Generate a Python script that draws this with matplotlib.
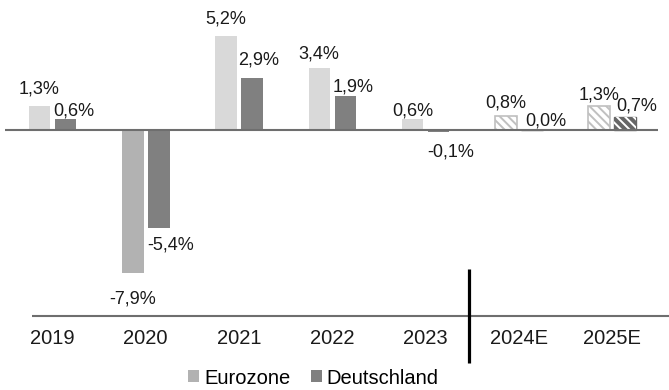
import matplotlib
matplotlib.use("Agg")
import matplotlib.pyplot as plt
from matplotlib.patches import Patch

# ---- data -------------------------------------------------------------
years = ["2019", "2020", "2021", "2022", "2023", "2024E", "2025E"]
eurozone = [1.3, -7.9, 5.2, 3.4, 0.6, 0.8, 1.3]
deutschland = [0.6, -5.4, 2.9, 1.9, -0.1, 0.0, 0.7]
is_forecast = [False, False, False, False, False, True, True]

# ---- style ------------------------------------------------------------
plt.rcParams["font.family"] = ["Liberation Sans", "DejaVu Sans"]
plt.rcParams["hatch.linewidth"] = 1.4

EURO_LIGHT = "#d9d9d9"
EURO_MID = "#b2b2b2"
DE_COLOR = "#808080"
DE_HATCH_BASE = "#666666"
EURO_HATCH = "#c0c0c0"
AXIS_GREY = "#6e6e6e"
euro_colors = [EURO_LIGHT, EURO_MID, EURO_LIGHT, EURO_LIGHT, EURO_LIGHT, EURO_LIGHT, EURO_LIGHT]
HATCH = "\\" * 4

# label placement (pixels): distance of label centre from the bar end
euro_gap = [19, 24, 19, 16, 10, 14, 13]
de_gap = [10, 15, 19, 11, 18, 11, 13]
de_dx = [-1, -1, -3, -2, -1, 4, 2]

VAL_FS = 13
CAT_FS = 14.5

# ---- figure / pixel layout -------------------------------------------
W, H = 669, 390
fig = plt.figure(figsize=(W / 100, H / 100), dpi=100)
ax = fig.add_axes([0, 0, 1, 1])
ax.axis("off")

X0, STEP = 52.5, 93.25      # pixel centre of first group, pixels per group
Y0, UNIT = 130.0, 18.1      # pixel row of zero, pixels per percent


def px_x(p):
    return (p - X0) / STEP


def px_y(p):
    return (Y0 - p) / UNIT


ax.set_xlim(px_x(0), px_x(W))
ax.set_ylim(px_y(H), px_y(0))

bw = 21.5 / STEP
off = 13.0 / STEP
xs = list(range(len(years)))

for i, x in enumerate(xs):
    xe, xd = x - off, x + off
    ve, vd = eurozone[i], deutschland[i]
    if is_forecast[i]:
        ax.bar(xe, ve, bw, color="white", edgecolor=EURO_HATCH, linewidth=1.2,
               hatch=HATCH, zorder=2)
        ax.bar(xd, vd, bw, color=DE_HATCH_BASE, edgecolor=DE_HATCH_BASE, linewidth=1.0, zorder=2)
        ax.bar(xd, vd, bw, color="none", edgecolor="white", linewidth=0,
               hatch=HATCH, zorder=3)
    else:
        ax.bar(xe, ve, bw, color=euro_colors[i], linewidth=0, zorder=2)
        ax.bar(xd, vd, bw, color=DE_COLOR, linewidth=0, zorder=2)


def fmt(v):
    return f"{v:.1f}%".replace(".", ",")


half_cap = 0.716 * VAL_FS * 100 / 72 / 2

for i, x in enumerate(xs):
    ve, vd = eurozone[i], deutschland[i]
    # Eurozone: centred over the bar
    dy = (euro_gap[i] - half_cap) if ve >= 0 else -(euro_gap[i] + half_cap)
    ax.annotate(fmt(ve), xy=(x - off, ve), xytext=(0, dy), textcoords="offset pixels",
                ha="center", va="baseline", fontsize=VAL_FS, color="#1a1a1a", zorder=5)
    # Deutschland: left-aligned with the bar
    dy = (de_gap[i] - half_cap) if vd >= 0 else -(de_gap[i] + half_cap)
    ax.annotate(fmt(vd), xy=(x + off - bw / 2, vd), xytext=(de_dx[i], dy),
                textcoords="offset pixels", ha="left", va="baseline",
                fontsize=VAL_FS, color="#1a1a1a", zorder=5)

# zero line
ax.plot([px_x(5), px_x(658)], [0, 0], color=AXIS_GREY, lw=1.5, zorder=4,
        solid_capstyle="butt")
# category axis line
ax.plot([px_x(32), px_x(W)], [px_y(315.5)] * 2, color=AXIS_GREY, lw=1.5, zorder=4,
        solid_capstyle="butt")
# actual / forecast separator
ax.plot([px_x(469)] * 2, [px_y(269), px_y(363)], color="black", lw=2.3, zorder=4,
        solid_capstyle="butt")

# category labels
cat_base = px_y(337)
for i, x in enumerate(xs):
    ax.annotate(years[i], xy=(x, cat_base), xytext=(0, 0), textcoords="offset pixels",
                ha="center", va="center_baseline", fontsize=CAT_FS, color="#1a1a1a")

handles = [Patch(facecolor=EURO_MID, edgecolor="none", label="Eurozone"),
           Patch(facecolor=DE_COLOR, edgecolor="none", label="Deutschland")]
fig.legend(handles=handles, loc="center", bbox_to_anchor=(313.5 / W, 1 - 378 / H),
           ncol=2, frameon=False, fontsize=CAT_FS, handlelength=0.55,
           handleheight=0.55, handletextpad=0.25, columnspacing=1.0,
           borderpad=0, borderaxespad=0)

fig.savefig("out.png", dpi=100)
